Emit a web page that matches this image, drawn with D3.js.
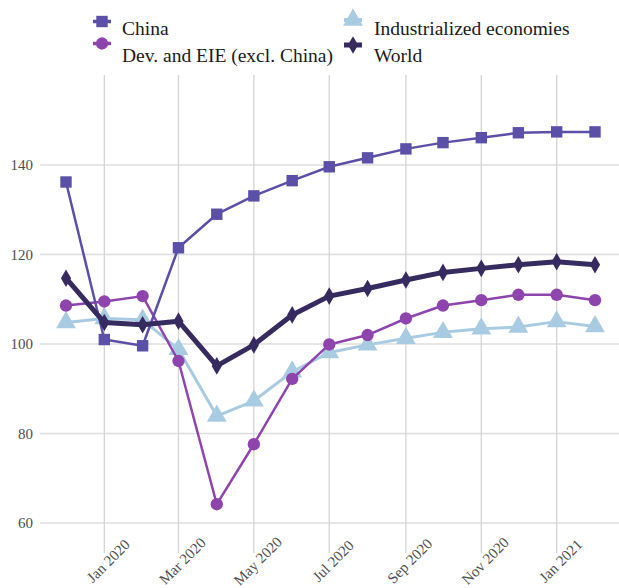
<!DOCTYPE html>
<html>
<head>
<meta charset="utf-8">
<script src="https://cdn.jsdelivr.net/npm/d3@7"></script>
<style>
  html, body { margin: 0; padding: 0; background: #ffffff; }
  svg { display: block; }
</style>
</head>
<body>
<svg id="chart" width="619" height="588"></svg>
<script>
// ---- Data ----
const months = ["2019-12","2020-01","2020-02","2020-03","2020-04","2020-05","2020-06","2020-07","2020-08","2020-09","2020-10","2020-11","2020-12","2021-01","2021-02"];
const china      = [136.2,101.0, 99.6,121.5,129.0,133.1,136.5,139.6,141.6,143.6,145.0,146.1,147.2,147.4,147.4];
const devEIE     = [108.6,109.5,110.7, 96.2, 64.2, 77.6, 92.2, 99.9,102.0,105.7,108.6,109.8,111.0,111.0,109.8];
const industrial = [104.8,105.7,105.4, 98.8, 83.9, 87.3, 93.8, 98.1, 99.8,101.3,102.6,103.4,103.8,105.0,103.9];
const world      = [114.7,104.8,104.3,105.1, 95.1, 99.8,106.5,110.7,112.4,114.3,116.0,116.9,117.7,118.4,117.7];
const yTicks = [60, 80, 100, 120, 140];
const xTickMonths = ["2020-01","2020-03","2020-05","2020-07","2020-09","2020-11","2021-01"];
const seriesNames = ["China","Dev. and EIE (excl. China)","Industrialized economies","World"];

const parse = d3.timeParse("%Y-%m");
const dates = months.map(parse);

const seriesDefs = [
  {name: seriesNames[0], values: china,      color: "#5b4fa7", width: 2.5, symbol: d3.symbolSquare,   size: 130},
  {name: seriesNames[1], values: devEIE,     color: "#8e44ad", width: 2.5, symbol: d3.symbolCircle,   size: 120},
  {name: seriesNames[2], values: industrial, color: "#a8cbe2", width: 3,   symbol: d3.symbolTriangle, size: 170},
  {name: seriesNames[3], values: world,      color: "#352b5f", width: 5,   symbol: d3.symbolDiamond,  size: 90}
];

const FONT = "Times New Roman, Times, Liberation Serif, DejaVu Serif, serif";
const svg = d3.select("#chart");
const panel = {left: 40, right: 619, top: 75, bottom: 553};

const x = d3.scaleTime()
  .domain([parse("2019-12"), parse("2021-02")])
  .range([66, 595]);
const y = d3.scaleLinear()
  .domain([60, 140])
  .range([523, 165]);

// ---- Gridlines ----
const grid = svg.append("g");
grid.selectAll("line.h").data(yTicks).join("line")
  .attr("x1", panel.left).attr("x2", panel.right)
  .attr("y1", d => y(d)).attr("y2", d => y(d))
  .attr("stroke", "#dcdcdc").attr("stroke-width", 1.5);
grid.selectAll("line.v").data(xTickMonths.map(parse)).join("line")
  .attr("x1", d => x(d)).attr("x2", d => x(d))
  .attr("y1", panel.top).attr("y2", panel.bottom)
  .attr("stroke", "#d4d4d4").attr("stroke-width", 1.3);

// ---- Axes labels ----
const yAxis = svg.append("g");
yAxis.selectAll("text").data(yTicks).join("text")
  .attr("x", 33).attr("y", d => y(d))
  .attr("text-anchor", "end")
  .attr("dominant-baseline", "central")
  .attr("font-family", FONT)
  .attr("font-size", 15)
  .attr("fill", "#4d4d4d")
  .text(d => d);

const fmt = d3.timeFormat("%b %Y");
const xAxis = svg.append("g");
xAxis.selectAll("text").data(xTickMonths.map(parse)).join("text")
  .attr("transform", d => `translate(${x(d) + 4},${561}) rotate(-45)`)
  .attr("text-anchor", "middle")
  .attr("dominant-baseline", "central")
  .attr("font-family", FONT)
  .attr("font-size", 15)
  .attr("fill", "#4d4d4d")
  .text(d => fmt(d));

// ---- Series ----
const line = d3.line().x((d, i) => x(dates[i])).y(d => y(d));
const order = [2, 1, 0, 3];
order.forEach(k => {
  const s = seriesDefs[k];
  const g = svg.append("g");
  g.append("path")
    .attr("d", line(s.values))
    .attr("fill", "none")
    .attr("stroke", s.color)
    .attr("stroke-width", s.width)
    .attr("stroke-linejoin", "round");
  g.selectAll("path.m").data(s.values).join("path")
    .attr("class", "m")
    .attr("transform", (d, i) => `translate(${x(dates[i])},${y(d)})`)
    .attr("d", d3.symbol().type(s.symbol).size(s.size))
    .attr("fill", s.color);
});

// ---- Legend ----
const legendPos = [
  {mx: 102, my: 21.5, tx: 122, ty: 35},
  {mx: 102, my: 43.5, tx: 122, ty: 62},
  {mx: 353, my: 20,   tx: 374, ty: 35},
  {mx: 353, my: 45,   tx: 374, ty: 62}
];
const legend = svg.append("g");
seriesDefs.forEach((s, i) => {
  const p = legendPos[i];
  const g = legend.append("g");
  g.append("line")
    .attr("x1", p.mx - 9).attr("x2", p.mx + 9)
    .attr("y1", p.my).attr("y2", p.my)
    .attr("stroke", s.color).attr("stroke-width", Math.min(s.width + 1, 5));
  g.append("path")
    .attr("transform", `translate(${p.mx},${p.my})`)
    .attr("d", d3.symbol().type(s.symbol).size(s.size))
    .attr("fill", s.color);
  g.append("text")
    .attr("x", p.tx).attr("y", p.ty)
    .attr("font-family", FONT)
    .attr("font-size", 19.5)
    .attr("fill", "#1a1a1a")
    .text(s.name);
});
</script>
</body>
</html>
